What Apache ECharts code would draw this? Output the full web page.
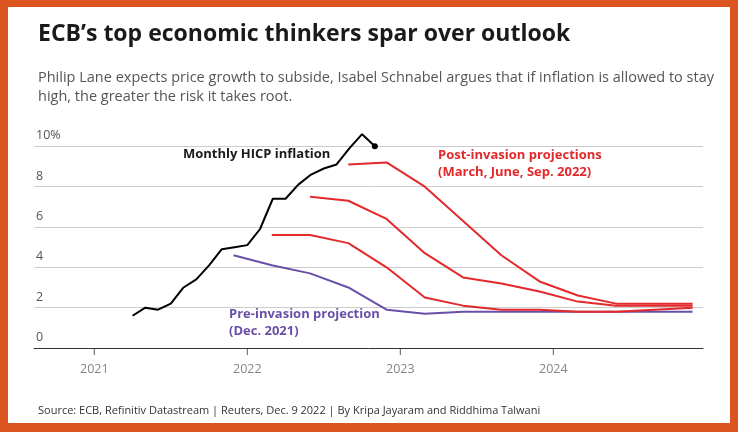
<!DOCTYPE html>
<html><head><meta charset="utf-8">
<script src="https://cdn.jsdelivr.net/npm/echarts@6/dist/echarts.min.js"></script>
<style>
html,body{margin:0;padding:0;}
body{width:738px;height:432px;background:#dc5420;}
#frame{position:absolute;left:8px;top:7px;width:722px;height:416px;background:#fff;}
#c{position:absolute;left:0;top:0;width:738px;height:432px;}
</style></head><body>
<div id="frame"></div>
<div id="c"></div>
<script>
// Monthly HICP inflation, Apr 2021 .. Nov 2022 (%)
var hicpStart = [2021, 4];
var hicp = [1.6, 2.0, 1.9, 2.2, 3.0, 3.4, 4.1, 4.9, 5.0, 5.1, 5.9, 7.4, 7.4, 8.1, 8.6, 8.9, 9.1, 9.9, 10.6, 10.0];
// Quarterly projections: start [year, quarter]
var preStart = [2021, 4];
var preDec2021 = [4.6, 4.1, 3.7, 3.0, 1.9, 1.7, 1.8, 1.8, 1.8, 1.8, 1.8, 1.8, 1.8];
var marStart = [2022, 1];
var postMar2022 = [5.6, 5.6, 5.2, 4.0, 2.5, 2.1, 1.9, 1.9, 1.8, 1.8, 1.9, 2.0];
var junStart = [2022, 2];
var postJun2022 = [7.5, 7.3, 6.4, 4.7, 3.5, 3.2, 2.8, 2.3, 2.1, 2.1, 2.1];
var sepStart = [2022, 3];
var postSep2022 = [9.1, 9.2, 8.0, 6.3, 4.6, 3.3, 2.6, 2.2, 2.2, 2.2];
var yearTicks = [2021, 2022, 2023, 2024];

function monthly(start, vals){ return vals.map(function(v,i){ var m=start[1]-1+i; return [start[0]+m/12, v]; }); }
function quarterly(start, vals){ return vals.map(function(v,i){ var q=start[1]-1+i; return [start[0]+q*0.25+0.16, v]; }); }

var red = '#e3292b', purple = '#6a4fa8';
var font = 'Source Sans Pro, "Open Sans", "Noto Sans", sans-serif';
function ln(name, data, color){ return {name:name,type:'line',data:data,symbol:'none',clip:false,lineStyle:{color:color,width:2},itemStyle:{color:color},z:3}; }
var hicpData = monthly(hicpStart, hicp);
var chart = echarts.init(document.getElementById('c'));
chart.setOption({
  animation:false,
  textStyle:{fontFamily:font},
  title:[
    {text:'ECB’s top economic thinkers spar over outlook',left:33,top:18,textStyle:{fontSize:23,fontWeight:'bold',color:'#1a1a1a',fontFamily:font}},
    {text:'Philip Lane expects price growth to subside, Isabel Schnabel argues that if inflation is allowed to stay\nhigh, the greater the risk it takes root.',left:33,top:63,textStyle:{fontSize:14.5,fontWeight:'normal',color:'#555',lineHeight:19,fontFamily:font}},
    {text:'Source: ECB, Refinitiv Datastream | Reuters, Dec. 9 2022 | By Kripa Jayaram and Riddhima Talwani',left:33,top:400,textStyle:{fontSize:11,fontWeight:'normal',color:'#333',fontFamily:font}}
  ],
  grid:{left:34,right:35,top:146.3,bottom:84,containLabel:false},
  xAxis:{type:'value',min:2020.606,max:2024.978,
    axisLine:{show:true,lineStyle:{color:'#333',width:1}},
    axisTick:{show:false},axisLabel:{show:false},splitLine:{show:false}},
  yAxis:{type:'value',min:0,max:10,interval:2,
    axisLine:{show:false},axisTick:{show:false},
    axisLabel:{inside:true,verticalAlign:'bottom',margin:0,padding:[0,0,4,2],color:'#555',fontSize:12.5,
      formatter:function(v){return v===10?'10%':v;}},
    splitLine:{lineStyle:{color:'#ccc',width:1}}},
  series:[
    ln('pre', quarterly(preStart, preDec2021), purple),
    ln('mar', quarterly(marStart, postMar2022), red),
    ln('jun', quarterly(junStart, postJun2022), red),
    ln('sep', quarterly(sepStart, postSep2022), red),
    {name:'hicp',type:'line',data:hicpData,symbol:'none',clip:false,lineStyle:{color:'#000',width:2},z:4,
      markPoint:{symbol:'circle',symbolSize:6,itemStyle:{color:'#000'},label:{show:false},data:[{coord:hicpData[hicpData.length-1]}]}},
    {name:'ticks',type:'scatter',data:yearTicks.map(function(y){return [y,0];}),symbol:'rect',symbolSize:[1,7],symbolOffset:[0,3.5],
      itemStyle:{color:'#333'},label:{show:true,position:'bottom',distance:8,color:'#666',fontSize:12.5,formatter:function(p){return p.value[0];}},silent:true,z:5}
  ],
  graphic:[
    {type:'text',left:183,top:148,style:{text:'Monthly HICP inflation',fill:'#1a1a1a',font:'bold 13px '+font}},
    {type:'text',left:438,top:147,style:{text:'Post-invasion projections\n(March, June, Sep. 2022)',fill:red,font:'bold 13px '+font,lineHeight:17}},
    {type:'text',left:229,top:306,style:{text:'Pre-invasion projection\n(Dec. 2021)',fill:purple,font:'bold 13px '+font,lineHeight:17}}
  ]
});
</script></body></html>
